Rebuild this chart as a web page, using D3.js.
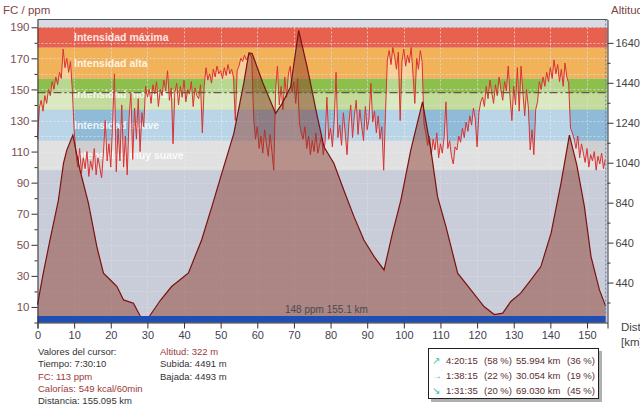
<!DOCTYPE html>
<html>
<head>
<meta charset="utf-8">
<script src="https://cdn.jsdelivr.net/npm/d3@7"></script>
<style>
  body { margin: 0; background: #fff; }
  svg text { font-family: "Liberation Sans", Arial, sans-serif; }
</style>
</head>
<body>
<div id="chart"></div>
<script>
// altitude profile (km, m)
var altKm = [0, 1.5, 3.4, 5.7, 7.1, 8.0, 9.65, 11.6, 13.9, 16.2, 18.0, 19.9, 21.7, 23.5, 26.2, 28.1, 29.4, 30.7,
    33.5, 36.6, 39.0, 41.2, 44.8, 47.6, 50.3, 53.6, 56.3, 57.7, 58.6, 61.5, 65.0, 66.8, 69.1, 71.3, 73.6, 76.4, 78.2, 80.9,
    83.6, 86.4, 89.1, 91.9, 94.6, 96.9, 99.2, 101.9, 105.1, 107.4, 109.2, 111.5, 114.7, 118.3, 121.9,
    124.7, 127.0, 129.2, 131.9, 134.7, 137.4, 140.2, 142.9, 145.2, 147.2, 149.3, 151.1, 153.4, 155.1];
var altM = [330, 480, 652, 852, 1038, 1103, 1178, 1003, 838, 620, 487, 453, 420, 353, 337, 270, 245, 275,
    350, 420, 455, 488, 653, 820, 987, 1187, 1437, 1590, 1587, 1440, 1287, 1337, 1420, 1703, 1520, 1270, 1120, 1037,
    903, 770, 653, 570, 503, 687, 853, 1103, 1345, 1103, 870, 720, 487, 403, 320,
    280, 287, 345, 387, 453, 520, 687, 937, 1178, 1030, 820, 570, 403, 322];

// heart rate, one reading every 0.5 km from km 0
var hrValues = [
    118, 138, 143, 136, 146, 141, 150, 146, 155, 150,
    158, 153, 161, 157, 176, 164, 170, 161, 168, 150,
    124, 108, 100, 112, 96, 106, 99, 110, 94, 104,
    98, 112, 95, 106, 100, 93, 109, 130, 104, 115,
    100, 128, 160, 97, 125, 104, 140, 100, 120, 95,
    132, 148, 105, 138, 118, 144, 110, 135, 126, 152,
    145, 150, 141, 153, 147, 155, 139, 150, 146, 156,
    149, 162, 143, 151, 115, 148, 154, 140, 152, 145,
    156, 142, 150, 147, 155, 139, 151, 146, 144, 153,
    122, 152, 164, 156, 160, 154, 163, 158, 165, 160,
    162, 157, 164, 159, 166, 160, 163, 158, 130, 162,
    165, 170, 168, 172, 169, 171, 173, 170, 132, 118,
    126, 112, 120, 109, 124, 115, 107, 121, 110, 98,
    150, 165, 140, 152, 137, 158, 145, 160, 165, 148,
    155, 141, 157, 128, 122, 118, 126, 112, 120, 108,
    117, 110, 122, 109, 114, 120, 108, 116, 145, 118,
    125, 113, 130, 161, 119, 127, 114, 135, 122, 108,
    128, 140, 119, 133, 143, 121, 137, 126, 117, 139,
    124, 131, 154, 129, 136, 122, 133, 118, 126, 98,
    135, 169, 175, 166, 177, 171, 163, 174, 130, 168,
    176, 165, 172, 167, 177, 160, 141, 170, 163, 175,
    168, 128, 122, 114, 120, 108, 118, 111, 122, 106,
    115, 109, 119, 142, 112, 117, 107, 102, 113, 111,
    120, 116, 125, 119, 129, 123, 133, 127, 138, 131,
    113, 135, 142, 145, 139, 152, 144, 156, 148, 141,
    153, 146, 158, 150, 143, 155, 149, 165, 145, 130,
    152, 140, 164, 136, 165, 148, 133, 150, 138, 111,
    124, 108, 137, 142, 155, 150, 158, 152, 161, 155,
    164, 157, 169, 160, 166, 155, 163, 152, 167, 158,
    154, 125, 122, 118, 112, 120, 106, 115, 109, 103,
    112, 100, 108, 104, 110, 98, 107, 102, 109, 99,
    105];
var hrStepKm = 0.5;

// heart rate zones
var zoneNames = ["Intensidad muy suave", "Intensidad suave", "Intensidad moderada", "Intensidad alta", "Intensidad máxima"];
var zoneLow = [98, 117, 137, 157, 177];
var zoneHigh = [117, 137, 157, 177, 190];

var avgHr = 148;
var totalKm = 155.1;

var kmTicks = [0, 10, 20, 30, 40, 50, 60, 70, 80, 90, 100, 110, 120, 130, 140, 150];
var hrTicks = [10, 30, 50, 70, 90, 110, 130, 150, 170, 190];
var hrMinor = [0, 20, 40, 60, 80, 100, 120, 140, 160, 180];
var altTicks = [440, 640, 840, 1040, 1240, 1440, 1640];
var altMinor = [340, 540, 740, 940, 1140, 1340, 1540];

var cursorLines = [
    ["Valores del cursor:", "Tiempo: 7:30:10", "FC: 113 ppm", "Calorías: 549 kcal/60min", "Distancia: 155.095 km"],
    ["Altitud: 322 m", "Subida: 4491 m", "Bajada: 4493 m"]
];
var cursorRed = [[false, false, true, true, false], [true, false, false]];

var slopeArrows = ["↗", "→", "↘"];
var slopeTime = ["4:20:15", "1:38:15", "1:31:35"];
var slopeTimePct = ["(58 %)", "(22 %)", "(20 %)"];
var slopeDist = ["55.994 km", "30.054 km", "69.030 km"];
var slopeDistPct = ["(36 %)", "(19 %)", "(45 %)"];

var zoneColors = ["#cfcfcf", "#8fbbd8", "#8dbf4c", "#f2b25a", "#e8614f"];

var W = 640, H = 409;
var pLeft = 37.5, pRight = 607.5, pTop = 19.5, pBottom = 322.5;

var svg = d3.select("#chart").append("svg")
    .attr("width", W)
    .attr("height", H);

var x = d3.scaleLinear().domain([0, 155.6]).range([pLeft, pRight]);
var yHr = d3.scaleLinear().domain([0, 195]).range([pBottom, pTop]);
var yAlt = d3.scaleLinear().domain([240, 1757]).range([pBottom, pTop]);

var hrData = hrValues.map(function (v, i) { return { km: i * hrStepKm, hr: v }; });
var altData = altKm.map(function (k, i) { return { km: k, alt: altM[i] }; });

var plot = svg.append("g");

// background
plot.append("rect")
    .attr("x", pLeft).attr("y", pTop)
    .attr("width", pRight - pLeft).attr("height", pBottom - pTop)
    .attr("fill", "#c9cdd9");
plot.append("rect")
    .attr("x", pLeft).attr("y", pTop)
    .attr("width", pRight - pLeft).attr("height", yHr(190) - pTop)
    .attr("fill", "#d7dbe3");

// zones
zoneNames.forEach(function (name, i) {
    plot.append("rect")
        .attr("x", pLeft).attr("y", yHr(zoneHigh[i]))
        .attr("width", pRight - pLeft)
        .attr("height", yHr(zoneLow[i]) - yHr(zoneHigh[i]))
        .attr("fill", zoneColors[i]);
});
// lower part of moderate zone is lighter
plot.append("rect")
    .attr("x", pLeft).attr("y", yHr(avgHr))
    .attr("width", pRight - pLeft)
    .attr("height", yHr(zoneLow[2]) - yHr(avgHr))
    .attr("fill", "#c3dc9c");

// grid
var grid = plot.append("g")
    .attr("stroke", "#dcdcdc")
    .attr("stroke-width", 1)
    .attr("stroke-dasharray", "2,2")
    .attr("opacity", 0.8);
kmTicks.slice(1).forEach(function (k) {
    grid.append("line")
        .attr("x1", Math.round(x(k)) + 0.5).attr("x2", Math.round(x(k)) + 0.5)
        .attr("y1", pTop).attr("y2", pBottom);
});
d3.range(10, 191, 10).forEach(function (v) {
    grid.append("line")
        .attr("x1", pLeft).attr("x2", pRight)
        .attr("y1", Math.round(yHr(v)) + 0.5).attr("y2", Math.round(yHr(v)) + 0.5);
});

// light fill under the heart rate
var hrArea = d3.area()
    .x(function (d) { return x(d.km); })
    .y0(yHr(zoneLow[0]))
    .y1(function (d) { return yHr(Math.max(d.hr, zoneLow[0])); });
plot.append("path")
    .datum(hrData)
    .attr("fill", "#ffffff")
    .attr("opacity", 0.38)
    .attr("d", hrArea);

// zone labels
zoneNames.forEach(function (name, i) {
    plot.append("text")
        .attr("x", 74)
        .attr("y", yHr((zoneLow[i] + zoneHigh[i]) / 2))
        .attr("dy", "0.35em")
        .attr("fill", "#ffffff")
        .attr("opacity", 0.85)
        .attr("font-weight", "bold")
        .style("font-size", "10.5px")
        .text(name);
});

// heart rate line
var hrLine = d3.line()
    .x(function (d) { return x(d.km); })
    .y(function (d) { return yHr(d.hr); });
plot.append("path")
    .datum(hrData)
    .attr("fill", "none")
    .attr("stroke", "#db3131")
    .attr("stroke-width", 1)
    .attr("d", hrLine);

// altitude profile
var altArea = d3.area()
    .x(function (d) { return x(d.km); })
    .y0(pBottom)
    .y1(function (d) { return yAlt(d.alt); });
var altLine = d3.line()
    .x(function (d) { return x(d.km); })
    .y(function (d) { return yAlt(d.alt); });
plot.append("path")
    .datum(altData)
    .attr("fill", "#873322")
    .attr("opacity", 0.46)
    .attr("d", altArea);
plot.append("path")
    .datum(altData)
    .attr("fill", "none")
    .attr("stroke", "#7a1212")
    .attr("stroke-width", 1.2)
    .attr("d", altLine);

// average heart rate
plot.append("line")
    .attr("x1", pLeft).attr("x2", pRight)
    .attr("y1", yHr(avgHr)).attr("y2", yHr(avgHr))
    .attr("stroke", "#6b5446")
    .attr("stroke-width", 1.2)
    .attr("stroke-dasharray", "8,3,2,3");

plot.append("text")
    .attr("x", 285)
    .attr("y", 313)
    .attr("fill", "#4a4a4a")
    .style("font-size", "10px")
    .text(avgHr + " ppm " + totalKm + " km");

// bottom bar and cursor
plot.append("rect")
    .attr("x", pLeft).attr("y", 316)
    .attr("width", x(totalKm) - pLeft).attr("height", pBottom - 316)
    .attr("fill", "#1f4fb2");
plot.append("line")
    .attr("x1", x(totalKm)).attr("x2", x(totalKm))
    .attr("y1", pTop).attr("y2", pBottom)
    .attr("stroke", "#6a80b4")
    .attr("stroke-dasharray", "2,2");

plot.append("line")
    .attr("x1", pLeft).attr("x2", pRight)
    .attr("y1", pTop).attr("y2", pTop)
    .attr("stroke", "#4e5660");

// axes
var xAxis = svg.append("g")
    .attr("transform", "translate(0," + pBottom + ")")
    .call(d3.axisBottom(x).tickValues(kmTicks).tickSize(6).tickPadding(3));
xAxis.selectAll("text").attr("fill", "#3e4350").style("font-size", "11px");

var yAxis = svg.append("g")
    .attr("transform", "translate(" + pLeft + ",0)")
    .call(d3.axisLeft(yHr).tickValues(hrTicks).tickSize(6).tickSizeOuter(0).tickPadding(2));
yAxis.selectAll("text").attr("fill", "#7a5050").style("font-size", "11.5px");
svg.append("g")
    .attr("transform", "translate(" + pLeft + ",0)")
    .call(d3.axisLeft(yHr).tickValues(hrMinor).tickSize(3).tickSizeOuter(0).tickFormat(""))
    .select(".domain").remove();

var yAxisR = svg.append("g")
    .attr("transform", "translate(" + pRight + ",0)")
    .call(d3.axisRight(yAlt).tickValues(altTicks).tickFormat(d3.format("d"))
        .tickSize(6).tickSizeOuter(0).tickPadding(2));
yAxisR.selectAll("text").attr("fill", "#444").style("font-size", "11px");
svg.append("g")
    .attr("transform", "translate(" + pRight + ",0)")
    .call(d3.axisRight(yAlt).tickValues(altMinor).tickSize(3).tickSizeOuter(0).tickFormat(""))
    .select(".domain").remove();

svg.selectAll(".domain, .tick line").attr("stroke", "#333");

// axis titles
svg.append("text").attr("x", 3).attr("y", 14)
    .attr("fill", "#7e4646").style("font-size", "11.5px").text("FC / ppm");
svg.append("text").attr("x", 611).attr("y", 14)
    .attr("fill", "#7e4646").style("font-size", "11.5px").text("Altitud");
svg.append("text").attr("x", 621).attr("y", 331)
    .attr("fill", "#444").style("font-size", "11.5px").text("Dist");
svg.append("text").attr("x", 621).attr("y", 346)
    .attr("fill", "#444").style("font-size", "11.5px").text("[km]");

// cursor values
var colX = [38, 160];
cursorLines.forEach(function (lines, c) {
    lines.forEach(function (t, i) {
        svg.append("text")
            .attr("x", colX[c])
            .attr("y", 355 + i * 12.3)
            .attr("fill", cursorRed[c][i] ? "#9a3a3a" : "#333")
            .style("font-size", "9.5px")
            .text(t);
    });
});

// slope summary box
svg.append("rect")
    .attr("x", 431).attr("y", 351)
    .attr("width", 171).attr("height", 51)
    .attr("fill", "#b0b0b0");
svg.append("rect")
    .attr("x", 428.5).attr("y", 348.5)
    .attr("width", 170).attr("height", 50)
    .attr("fill", "#fff")
    .attr("stroke", "#222");
var boxCols = [446, 484, 516, 567];
slopeTime.forEach(function (t, i) {
    var yy = 363.5 + i * 15;
    svg.append("text").attr("x", 432).attr("y", yy)
        .attr("fill", "#3dbf9b").style("font-size", "10px").text(slopeArrows[i]);
    [slopeTime[i], slopeTimePct[i], slopeDist[i], slopeDistPct[i]].forEach(function (s, j) {
        svg.append("text").attr("x", boxCols[j]).attr("y", yy)
            .attr("fill", "#5a2e2e").style("font-size", "9.5px").text(s);
    });
});
</script>
</body>
</html>
